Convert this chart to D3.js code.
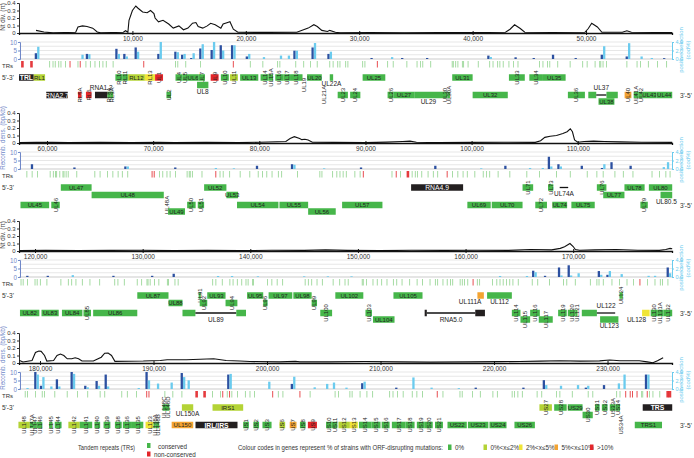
<!DOCTYPE html>
<html>
<head>
<meta charset="utf-8">
<script src="https://cdn.jsdelivr.net/npm/d3@7"></script>
<style>
  body { margin: 0; background: #fff; }
  svg { font-family: "Liberation Sans", Arial, sans-serif; }
</style>
</head>
<body>
<div class="vis-genome"></div>
<script>
// genome positions in kb, one array per panel row
const rowStarts = [0, 57.36, 118.51, 178.15];
const rowEnds = [57.58, 118.88, 179.18, 235.68];
const rowTicks = [[10, 20, 30, 40, 50], [60, 70, 80, 90, 100, 110], [120, 130, 140, 150, 160, 170], [180, 190, 200, 210, 220, 230]];
const leftTitles = ["Nt div. (\u03c0)", "Recomb. dens. (bp/kb)", "Nt div. (\u03c0)", "Recomb. dens. (bp/kb)"];
const divTicks = [0, 0.1, 0.2, 0.3, 0.4];
const barTicks = [0, 5, 10];
const selTicks = [0, 2, 4];

// nucleotide diversity line [kb, value]
const div1 = [[1.5,0.035],[2.2,0.013],[3.0,0.002],[5.0,0.01],[5.2,0.08],[5.6,0.095],[6.0,0.087],[6.5,0.065],[6.9,0.013],[7.2,0.002],[9.2,0.01],[9.4,0.03],[9.6,0.01],[9.7,0.17],[10.0,0.30],[10.3,0.36],[10.5,0.33],[10.9,0.28],[11.3,0.27],[11.6,0.30],[11.9,0.26],[12.0,0.20],[12.3,0.15],[12.7,0.17],[13.2,0.12],[13.6,0.065],[14.1,0.095],[14.5,0.043],[14.9,0.065],[15.3,0.13],[15.6,0.14],[15.8,0.087],[16.2,0.065],[16.6,0.095],[16.9,0.13],[17.3,0.11],[17.8,0.065],[18.0,0.12],[18.4,0.14],[18.6,0.15],[18.9,0.05],[19.3,0.01],[22,0.008],[24.5,0.01],[25.5,0.065],[26.0,0.11],[26.3,0.087],[26.7,0.035],[27.2,0.02],[27.4,0.035],[27.9,0.01],[28.3,0.002],[31,0.006],[34,0.004],[37,0.007],[40,0.005],[42.9,0.01],[43.3,0.05],[43.7,0.11],[44.2,0.06],[44.6,0.01],[47,0.006],[49.9,0.01],[50.2,0.06],[50.5,0.13],[51.0,0.08],[51.4,0.01],[53.2,0.01],[53.6,0.03],[54.0,0.01],[56,0.006],[57.6,0.005]];
const div2 = [[57.4,0.005],[59.0,0.008],[60.5,0.01],[62,0.005],[65,0.008],[68,0.005],[70.5,0.01],[72,0.006],[75,0.008],[78,0.005],[80,0.01],[82.5,0.02],[82.9,0.06],[83.3,0.084],[83.8,0.06],[84.0,0.045],[84.3,0.05],[84.6,0.04],[85.0,0.01],[87,0.008],[90,0.005],[92,0.012],[93.5,0.02],[94.2,0.025],[94.8,0.01],[97,0.005],[100,0.008],[103,0.01],[106,0.008],[106.5,0.03],[106.9,0.075],[107.4,0.09],[108.0,0.1],[108.6,0.126],[109.0,0.15],[109.3,0.19],[109.5,0.15],[109.7,0.04],[110.0,0.01],[110.6,0.02],[111.5,0.025],[112.5,0.02],[114,0.015],[116,0.01],[118.9,0.008]];
const div3 = [[118.6,0.005],[121,0.01],[124,0.005],[127,0.008],[130,0.01],[133,0.005],[136,0.008],[139,0.005],[142,0.01],[145,0.008],[147,0.015],[149,0.008],[152,0.005],[155,0.01],[158,0.008],[161,0.01],[164,0.008],[166,0.02],[168,0.015],[168.8,0.035],[169.2,0.058],[169.7,0.1],[170.0,0.06],[170.2,0.02],[170.6,0.01],[172,0.015],[174,0.02],[176,0.01],[178,0.008],[178.6,0.02],[179.0,0.035],[179.2,0.03]];
const div4 = [[178.2,0.034],[178.5,0.013],[179.3,0.034],[179.6,0.14],[179.9,0.16],[180.1,0.155],[180.4,0.1],[180.6,0.026],[181.2,0.034],[181.5,0.1],[181.8,0.12],[182.1,0.1],[182.4,0.056],[182.8,0.056],[183.1,0.07],[183.4,0.056],[183.7,0.026],[184.7,0.026],[185.4,0.077],[185.7,0.13],[186.0,0.133],[186.3,0.1],[186.6,0.022],[189.1,0.026],[190.6,0.034],[191.2,0.043],[192.9,0.043],[194.1,0.05],[195.3,0.056],[196.4,0.034],[197.6,0.026],[198.5,0.02],[201.1,0.015],[202.5,0.022],[202.9,0.015],[205.5,0.015],[208.6,0.02],[211.7,0.015],[214.4,0.012],[217.9,0.015],[220.5,0.018],[222.3,0.02],[224.1,0.025],[225.8,0.03],[227.6,0.025],[229.3,0.028],[230.2,0.04],[231.1,0.03],[232.8,0.03],[233.5,0.015],[234.0,0.003],[234.4,0.03],[234.9,0.07]];

// bars [kb, recombination (dark), positive selection (light)]
const bars1 = [[1.6,3.4,7.2],[5.5,0,2.5],[6.1,3,2.8],[8.7,6,3],[9.4,3,1.5],[10.4,6.8,4.3],[12.4,3,10],[13.9,4.3,4],[14.5,2.5,3],[15.3,0.6,3.4],[16.1,6.2,8.7],[17.1,5.3,10],[17.9,8.1,5],[18.9,8.1,8.1],[20.2,1.5,3],[21.5,0,1.1],[23.0,0,2],[23.7,0,2],[24.4,4.9,4.9],[26.0,6.8,9.4],[27.4,3,4.3],[31.2,0.6,0],[32.8,0,1.1],[33.9,0.6,0],[36.1,0.6,0],[41.5,2,1.2],[43.9,1,0],[45.5,0.6,0],[47.2,2.5,0],[49.2,0.6,0],[51.5,2.5,7.5],[53.7,1.5,9.3],[54.8,0,1.5],[55.7,0,0.6],[57.0,0.5,0]];
const bars2 = [[58.7,2.8,0],[62.7,0.9,0],[67.5,1.5,1.5],[72.2,0.9,0],[75.8,0,0.6],[77.5,0,0.4],[79.9,1.9,0],[83.2,2.8,2.5],[86.0,0,0.4],[89.7,0.9,0],[96.7,1.9,0],[100.8,0,0.4],[103.3,1.9,0],[105.4,0,0.6],[106.6,0,0.6],[107.4,7.2,1.5],[108.3,2.8,1.5],[110.5,1.9,0],[112.4,0.6,2.8],[113.3,4,0],[115.1,1.9,0],[118.0,0,1.1],[118.4,0,4]];
const bars3 = [[119.4,0.7,0],[121.3,0.7,0],[123.4,0,1.1],[127.4,0.7,0],[131.0,0.7,0],[133.0,1.9,0],[136.9,0,0.6],[138.2,0,0.6],[140.6,0,0.4],[144.9,0,0.4],[147.1,0,0.4],[149.3,0,0.4],[163.1,0,0.6],[165.6,0,0.6],[166.4,3.7,2.8],[167.5,0.7,0],[168.8,5.6,0.9],[169.7,6.9,0.9],[170.4,0,2.2],[172.5,3.5,1.3],[173.3,1.3,3.5],[174.4,0,1.7],[176.9,0,0.7],[177.5,0,0.7],[178.9,5.6,2.2]];
const bars4 = [[178.8,0,0.6],[179.7,10,8.5],[180.2,1.9,7],[180.9,0,1.5],[181.6,5.7,1.5],[182.9,10,8.9],[184.1,1.9,1],[185.1,4.7,1.9],[185.9,8.5,1.5],[188.6,0,0.6],[189.5,10,5.1],[190.3,0,3.2],[191.5,0,3.8],[192.6,9.4,7],[193.0,0,5.1],[196.7,8.5,8.9],[200.1,0,4.3],[202.3,3,7.2],[204.1,0,1],[205.2,0,3],[205.8,0,3.8],[206.9,0,0.8],[208.5,3.4,4.3],[211.5,0.8,0],[212.8,0,6.8],[214.4,0,0.8],[216.8,0,0.5],[218.5,0.8,0],[222.7,0.8,0],[224.5,5.2,2.3],[225.8,0,1.9],[227.3,0,2.3],[228.2,0.8,1.9],[229.8,2.3,0],[230.9,0,3.3],[231.4,0,8.5],[233.5,8.5,8.5]];

// tandem repeats [kb, type]  c conserved, n non-conserved, N wide non-conserved
const trs1 = [[0.3,"N"],[1.1,"N"],[2.7,"c"],[3.0,"c"],[3.2,"c"],[3.5,"c"],[3.7,"c"],[4.1,"c"],[4.5,"n"],[5.2,"c"],[5.4,"n"],[5.9,"c"],[6.3,"c"],[6.7,"c"],[7.1,"c"],[7.4,"c"],[7.7,"c"],[8.3,"c"],[11.0,"n"],[13.8,"c"],[14.0,"c"],[14.7,"c"],[16.0,"c"],[18.9,"n"],[20.4,"c"],[21.5,"c"],[22.8,"c"],[23.0,"c"],[24.4,"c"],[25.1,"c"],[25.7,"c"],[26.3,"c"],[27.4,"c"],[27.7,"c"],[28.1,"c"],[28.3,"c"],[28.8,"c"],[29.0,"c"],[30.3,"c"],[30.5,"c"],[31.6,"n"],[32.5,"c"],[33.0,"c"],[34.2,"c"],[35.1,"c"],[35.4,"c"],[35.6,"c"],[36.3,"c"],[38.2,"c"],[38.3,"c"],[38.5,"c"],[38.7,"c"],[39.1,"c"],[39.2,"c"],[39.6,"c"],[40.5,"c"],[41.5,"c"],[41.8,"c"],[42.2,"c"],[42.4,"c"],[42.7,"c"],[43.2,"c"],[43.6,"c"],[44.0,"c"],[45.9,"c"],[46.2,"c"],[46.6,"c"],[46.8,"c"],[47.5,"c"],[48.6,"c"],[49.7,"c"],[50.1,"c"],[50.8,"c"],[51.2,"c"],[51.3,"c"],[51.5,"c"],[51.8,"c"],[53.6,"c"],[54.5,"c"],[54.8,"c"],[55.5,"c"],[56.3,"c"],[57.1,"c"]];
const trs2 = [[58.1,"c"],[58.6,"c"],[59.1,"c"],[60.3,"c"],[60.6,"c"],[60.8,"c"],[60.9,"c"],[61.2,"c"],[61.5,"c"],[61.6,"c"],[61.8,"c"],[62.0,"c"],[62.8,"c"],[64.5,"c"],[65.0,"c"],[65.7,"c"],[66.2,"c"],[66.7,"c"],[67.1,"c"],[67.6,"c"],[69.9,"n"],[70.1,"n"],[70.6,"c"],[70.9,"c"],[71.3,"c"],[71.6,"c"],[72.1,"c"],[73.2,"c"],[73.4,"c"],[73.5,"c"],[73.7,"c"],[74.6,"c"],[75.9,"n"],[76.3,"c"],[76.6,"c"],[77.2,"c"],[78.2,"c"],[79.1,"c"],[79.9,"c"],[80.3,"c"],[80.7,"c"],[81.2,"c"],[81.8,"c"],[82.1,"c"],[83.6,"c"],[85.7,"c"],[85.9,"c"],[86.9,"c"],[87.3,"c"],[87.6,"c"],[87.9,"c"],[88.2,"c"],[89.0,"c"],[89.5,"c"],[89.8,"n"],[92.5,"c"],[92.9,"n"],[93.3,"c"],[94.0,"N"],[94.4,"c"],[94.7,"c"],[94.9,"c"],[95.3,"c"],[95.9,"c"],[96.4,"c"],[96.8,"c"],[97.7,"n"],[98.2,"c"],[98.7,"c"],[99.2,"c"],[99.6,"c"],[100.3,"c"],[101.1,"c"],[101.4,"c"],[101.7,"c"],[102.5,"c"],[103.6,"c"],[105.2,"c"],[106.4,"c"],[108.0,"c"],[109.3,"c"],[110.9,"c"],[111.8,"c"],[112.4,"c"],[113.5,"c"],[114.3,"c"],[115.2,"c"],[117.0,"c"],[117.7,"c"],[118.3,"c"],[118.7,"c"]];
const trs3 = [[118.7,"c"],[118.9,"c"],[119.3,"c"],[120.0,"c"],[120.2,"c"],[120.5,"c"],[121.1,"c"],[122.4,"c"],[123.1,"c"],[123.4,"c"],[123.8,"c"],[124.4,"c"],[125.1,"c"],[126.0,"c"],[127.4,"c"],[127.7,"c"],[128.3,"c"],[129.5,"c"],[129.9,"c"],[130.4,"c"],[130.5,"c"],[130.7,"c"],[131.1,"c"],[131.5,"c"],[132.3,"c"],[132.4,"c"],[133.0,"c"],[133.3,"c"],[136.5,"c"],[136.8,"c"],[137.4,"c"],[138.1,"c"],[138.4,"c"],[138.8,"c"],[139.2,"c"],[139.6,"c"],[139.8,"c"],[140.2,"c"],[140.3,"c"],[141.6,"c"],[142.0,"c"],[142.5,"c"],[143.0,"c"],[145.1,"c"],[145.4,"c"],[145.7,"c"],[146.2,"c"],[146.7,"c"],[147.7,"c"],[148.3,"c"],[148.8,"c"],[149.1,"c"],[150.4,"c"],[150.5,"c"],[150.8,"c"],[151.4,"c"],[151.8,"c"],[152.2,"c"],[152.7,"c"],[153.3,"c"],[153.6,"c"],[154.1,"c"],[154.8,"c"],[155.5,"c"],[156.0,"c"],[156.7,"c"],[157.2,"c"],[157.4,"c"],[157.9,"c"],[158.3,"c"],[158.6,"c"],[158.8,"c"],[159.5,"c"],[159.7,"c"],[159.9,"c"],[160.2,"c"],[160.7,"n"],[161.1,"c"],[161.3,"c"],[162.5,"c"],[162.9,"c"],[163.2,"c"],[163.5,"c"],[163.8,"c"],[164.1,"c"],[164.4,"c"],[164.9,"c"],[166.2,"c"],[166.7,"c"],[167.8,"c"],[169.1,"c"],[169.4,"c"],[170.2,"c"],[171.6,"c"],[172.2,"c"],[172.4,"c"],[172.8,"c"],[173.6,"c"],[174.3,"c"],[175.0,"c"],[175.6,"c"],[176.2,"n"],[176.9,"c"],[177.6,"c"],[178.1,"c"],[178.3,"c"],[178.8,"c"]];
const trs4 = [[178.7,"c"],[178.9,"c"],[179.6,"c"],[180.2,"c"],[180.4,"c"],[181.3,"c"],[182.4,"c"],[183.3,"c"],[184.2,"c"],[185.3,"c"],[185.7,"c"],[187.2,"c"],[187.7,"c"],[188.5,"c"],[189.4,"n"],[189.6,"n"],[191.0,"c"],[191.7,"c"],[192.5,"c"],[193.8,"N"],[194.5,"N"],[195.2,"c"],[195.9,"c"],[196.1,"n"],[196.5,"c"],[196.7,"n"],[196.9,"c"],[197.4,"c"],[198.1,"c"],[198.5,"c"],[198.9,"c"],[200.5,"n"],[201.0,"c"],[201.4,"c"],[202.9,"n"],[203.8,"c"],[206.0,"c"],[206.3,"c"],[207.3,"c"],[207.5,"c"],[208.2,"c"],[208.8,"c"],[209.3,"c"],[210.8,"c"],[211.1,"c"],[211.5,"c"],[212.0,"c"],[212.8,"c"],[213.2,"c"],[213.7,"c"],[215.0,"n"],[215.5,"c"],[217.0,"c"],[217.2,"c"],[218.1,"c"],[218.8,"c"],[219.9,"c"],[220.3,"c"],[221.6,"c"],[221.8,"c"],[222.1,"c"],[222.5,"c"],[223.8,"c"],[224.2,"c"],[225.5,"c"],[225.8,"c"],[226.9,"c"],[228.3,"c"],[228.7,"c"],[230.8,"c"],[231.1,"c"],[231.6,"n"],[232.0,"n"],[232.2,"n"],[232.6,"n"],[233.0,"c"],[233.1,"c"],[233.5,"n"],[233.7,"c"],[234.0,"c"],[234.6,"c"],[235.3,"N"],[235.5,"N"]];

// genes [name, start kb, end kb, lane, colour code, label mode]
const genes1 = [
  ["TRL",0,1.3,"A","k","h"],["RL1",1.3,2.3,"A","yg","h"],["RNA2.7",2.4,4.3,"C","k","h"],
  ["RL5A",5.2,5.5,"C","r","r"],["RL6",5.9,6.4,"C","r","r"],["RNA1.2",6.7,7.8,"C","k","a"],
  ["RL8A",7.8,8.05,"C","g","r"],["RL9A",8.05,8.3,"C","g","r"],["RL10",8.5,9.1,"A","g","r"],
  ["RL11",9.1,9.6,"A","g","r"],["RL12",9.6,11.1,"A","yg","h"],["RL13",11.1,12.0,"A","y","r"],
  ["UL1",12.0,12.7,"A","r","r"],["UL2",13.0,13.4,"C","g","r"],["UL4",13.8,14.4,"A","g","r"],
  ["UL5",14.4,14.9,"A","g","r"],["UL6",14.9,15.8,"A","g","h"],["UL7",15.8,16.4,"A","g","r"],
  ["UL8",15.7,16.7,"B","g","b"],["UL9",16.9,17.6,"A","r","r"],["UL10",17.8,18.5,"A","g","r"],
  ["UL11",18.6,19.3,"A","yg","r"],["UL13",19.5,21.1,"A","g","h"],["UL14",21.3,22.0,"A","g","r"],
  ["UL15A",22.0,22.4,"A","g","r"],["UL16",22.6,23.3,"A","g","r"],["UL17",23.3,23.9,"A","g","r"],
  ["UL18",23.9,25.0,"A","g","r"],["UL19",25.0,25.3,"B","none","r"],["UL20",25.4,26.7,"A","g","h"],
  ["UL21A",26.8,27.0,"C","none","r"],["UL22A",27.4,27.7,"A","g","b"],["UL23",28.1,29.0,"C","g","r"],
  ["UL24",29.2,30.1,"C","g","r"],["UL25",30.3,32.3,"A","g","h"],["UL26",32.5,33.0,"C","g","r"],
  ["UL27",33.0,34.9,"C","g","h"],["UL29",34.9,37.3,"C","g","b"],["UL30",37.3,37.8,"C","g","r"],
  ["UL30A",37.8,38.0,"C","g","r"],["UL31",38.2,40.0,"A","g","h"],["UL32",40.0,43.1,"C","g","h"],
  ["UL33",43.2,44.6,"A","g","r"],["UL34",45.0,46.2,"A","g","r"],["UL35",46.2,48.2,"A","g","h"],
  ["UL36",48.4,49.9,"C","g","r"],["",50.2,50.9,"C","g","n"],["UL37",50.9,51.8,"C","line","a"],
  ["",51.8,52.8,"C","g","n"],["UL38",51.1,52.5,"D","g","h"],["UL40",53.4,54.0,"C","o","r"],
  ["UL41A",54.2,54.6,"C","g","r"],["UL42",54.6,55.0,"C","g","r"],["UL43",55.0,56.2,"C","g","h"],
  ["UL44",56.2,57.6,"C","g","h"]
];
const genes2 = [
  ["UL45",57.5,60.2,"C","g","h"],["UL46",60.4,61.2,"C","g","r"],["UL47",61.3,64.2,"A","g","h"],
  ["UL48",64.2,71.0,"B","g","h"],["UL48A",71.2,71.4,"C","none","r"],["UL49",71.4,73.0,"D","g","h"],
  ["UL50",73.2,74.0,"C","g","r"],["UL51",74.2,74.8,"C","g","r"],["UL52",74.8,76.9,"A","g","h"],
  ["UL53",76.9,78.0,"B","g","h"],["UL54",77.9,81.8,"C","g","h"],["UL55",81.9,84.6,"C","g","h"],
  ["UL56",84.6,87.2,"D","g","h"],["UL57",87.8,91.6,"C","g","h"],["RNA4.9",94.3,99.2,"A","k","h"],
  ["UL69",99.6,101.8,"C","g","h"],["UL70",101.9,104.8,"C","g","h"],["UL71",104.8,105.8,"A","g","r"],
  ["UL72",106.0,107.1,"C","g","r"],["UL73",107.2,107.7,"A","g","r"],["UL74A",108.3,109.1,"A","line","b"],
  ["UL74",107.6,109.0,"C","g","h"],["UL75",109.4,111.6,"C","g","h"],["UL76",111.8,112.7,"A","g","r"],
  ["UL77",112.4,114.4,"B","g","h"],["UL78",114.4,116.3,"A","g","h"],["UL79",115.9,116.6,"C","g","r"],
  ["UL80",116.7,118.9,"A","g","h"],["UL80.5",117.8,118.9,"B","g","b"]
];
const genes3 = [
  ["UL82",118.6,120.4,"C","g","h"],["UL83",120.6,122.2,"C","g","h"],["UL84",122.5,124.4,"C","g","h"],
  ["UL85",124.5,125.2,"C","g","r"],["UL86",125.4,129.5,"C","g","h"],["UL87",129.5,132.4,"A","g","h"],
  ["UL88",132.4,133.7,"B","g","h"],["",133.7,134.9,"C","g","n"],["UL89",134.9,138.7,"C","line","b"],
  ["",138.7,139.6,"C","g","n"],["UL91",135.2,135.4,"A","g","r"],["UL92",135.3,136.0,"B","g","r"],
  ["UL93",136.0,137.7,"A","g","h"],["UL94",137.7,138.8,"B","g","r"],["UL95",139.7,141.2,"A","g","h"],
  ["UL96",141.2,141.6,"B","g","r"],["UL97",141.7,143.9,"A","g","h"],["UL98",144.0,145.7,"A","g","h"],
  ["UL99",145.7,146.2,"B","g","r"],["UL100",146.5,147.6,"C","g","r"],["UL102",147.9,150.5,"A","g","h"],
  ["UL103",150.7,151.3,"C","g","r"],["UL104",151.4,153.4,"D","g","h"],["UL105",153.3,156.0,"A","g","h"],
  ["",156.2,156.4,"C","k","n"],["RNA5.0",156.4,160.9,"C","line","b"],["",160.9,161.8,"C","k","n"],
  ["UL111A",161.1,161.7,"A","o","bl"],["UL112",162.0,164.3,"A","g","b"],["UL114",164.3,165.1,"C","g","r"],
  ["UL115",165.1,166.0,"D","g","r"],["UL116",166.0,166.9,"C","g","r"],["UL117",166.8,168.1,"D","g","r"],
  ["UL119",168.6,169.4,"C","g","r"],["UL120",169.5,170.2,"C","g","r"],["UL121",170.2,170.4,"C","g","r"],
  ["",170.8,172.2,"C","g","n"],["UL122",172.2,173.9,"C","line","a"],["UL123",172.5,174.2,"D","g","b"],
  ["UL124",174.3,174.6,"A","g","r"],["UL128",176.4,177.1,"C","y","bl"],["UL130",177.2,177.8,"C","g","r"],
  ["UL131A",177.8,178.4,"C","g","r"],["UL132",178.4,179.2,"C","g","r"]
];
const genes4 = [
  ["UL148",178.1,179.1,"C","yg","r"],["UL147A",179.1,179.4,"C","g","r"],["UL147",179.4,179.7,"C","g","r"],
  ["UL146",179.7,180.2,"C","g","r"],["UL145",180.8,181.1,"C","g","r"],["UL144",181.3,181.9,"C","g","r"],
  ["UL142",182.5,183.5,"C","yg","r"],["UL141",183.5,184.6,"C","g","r"],["UL140",184.8,185.3,"C","g","r"],
  ["UL139",185.6,186.2,"C","g","r"],["UL138",186.6,187.2,"C","g","r"],["UL136",187.3,188.1,"C","g","r"],
  ["UL135",188.1,189.1,"C","g","r"],["UL133",189.3,190.0,"C","y","r"],["UL148A",190.0,190.2,"C","g","r"],
  ["UL148B",190.2,190.5,"C","g","r"],["UL148C",190.8,191.1,"A","g","r"],["UL148D",191.1,191.4,"A","g","r"],
  ["UL150",191.6,193.5,"C","o","h"],["UL150A",192.5,193.5,"A","yg","b"],["IRL/IRS",193.7,197.4,"C","k","h"],
  ["IRS1",195.2,197.9,"A","yg","h"],["US1",197.9,198.4,"C","g","r"],["US2",198.8,199.3,"C","g","r"],
  ["US3",199.6,200.4,"C","g","r"],["US6",201.1,201.6,"C","yg","r"],["US7",202.0,202.6,"C","o","r"],
  ["US8",202.9,203.4,"C","g","r"],["US9",203.6,204.4,"C","r","r"],["US10",205.2,205.7,"C","g","r"],
  ["US11",205.7,206.2,"C","g","r"],["US12",206.3,207.3,"C","yg","r"],["US13",207.3,208.0,"C","y","r"],
  ["US14",208.1,209.2,"C","g","r"],["US15",209.2,210.0,"C","g","r"],["US16",210.1,210.8,"C","g","r"],
  ["US17",211.0,212.2,"C","g","r"],["US18",212.2,213.0,"C","g","r"],["US19",213.2,213.9,"C","g","r"],
  ["US20",213.9,214.6,"C","g","r"],["US21",214.8,215.5,"C","g","r"],["US22",215.9,217.6,"C","g","h"],
  ["US23",217.7,219.5,"C","g","h"],["US24",219.6,221.1,"C","g","h"],["US26",221.8,223.6,"C","g","h"],
  ["US27",224.0,225.1,"A","yg","r"],["US28",225.3,226.4,"A","g","r"],["US29",226.5,227.8,"A","g","h"],
  ["US30",227.8,228.7,"B","g","r"],["US31",228.9,229.3,"A","g","r"],["US32",229.5,230.0,"A","g","r"],
  ["US33A",230.2,230.7,"A","g","r"],["US34",230.7,231.1,"A","g","r"],["US34A",231.1,231.3,"C","none","r"],
  ["TRS1",232.4,234.8,"C","g","h"],["TRS",233.1,235.7,"A","k","h"]
];

const legendCodes = ["g", "yg", "y", "o", "r"];
const legendLabels = ["0%", "0%<x\u22642%", "2%<x\u22645%", "5%<x\u226410%", ">10%"];

const colors = { g: "#46b64a", yg: "#b4d336", y: "#f0e536", o: "#f4a432", r: "#e3262a", k: "#231f20" };
const darkBlue = "#2c50a0", lightBlue = "#6bcbee", axisBlue = "#7088c8";

const draw = () => {
  const W = 694, H = 458;
  const rowTop = [0, 110, 218, 330];
  const laneY = { A: 77.5, B: 85, C: 95, D: 101.5 };
  const boxH = 6.5;
  const x0 = 19, x1 = 672;
  const geneFont = 6;

  const svg = d3.select(".vis-genome").append("svg")
    .attr("width", W).attr("height", H);

  const rows = [
    { div: div1, bars: bars1, trs: trs1, genes: genes1 },
    { div: div2, bars: bars2, trs: trs2, genes: genes2 },
    { div: div3, bars: bars3, trs: trs3, genes: genes3 },
    { div: div4, bars: bars4, trs: trs4, genes: genes4 }
  ];

  rows.forEach((row, i) => {
    const g = svg.append("g").attr("transform", "translate(0," + rowTop[i] + ")");
    const x = d3.scaleLinear().domain([rowStarts[i], rowEnds[i]]).range([x0, x1]);
    const yDiv = d3.scaleLinear().domain([0, 0.4]).range([33, 3]);
    const yBar = d3.scaleLinear().domain([0, 10]).range([59, 42]);
    const ySel = d3.scaleLinear().domain([0, 4]).range([59, 42]);

    // diversity / recombination curve
    g.append("g").attr("class", "yaxis")
      .attr("transform", "translate(" + x0 + ",0)")
      .call(d3.axisLeft(yDiv).tickValues(divTicks).tickSize(2).tickPadding(1.5)
        .tickFormat(d => (d === 0 ? "0" : d3.format(".1f")(d))))
      .call(s => s.selectAll("text").attr("font-size", 6).attr("fill", "#333"))
      .call(s => s.selectAll("line,path").attr("stroke", "#333"));

    g.append("path").datum(row.div)
      .attr("fill", "none").attr("stroke", "#111").attr("stroke-width", 1.1)
      .attr("d", d3.line().x(d => x(d[0])).y(d => yDiv(d[1])));

    g.append("g").attr("class", "x-axis")
      .attr("transform", "translate(0,33)")
      .call(d3.axisBottom(x).tickValues(rowTicks[i]).tickSize(2).tickPadding(1)
        .tickFormat(d => d3.format(",")(d * 1000)))
      .call(s => s.select(".domain").attr("stroke", "#111").attr("stroke-width", 1.3))
      .call(s => s.selectAll(".tick line").attr("y1", -2).attr("stroke", "#111"))
      .call(s => s.selectAll("text").attr("font-size", 6.5).attr("fill", "#333"));

    // bar panel grid
    g.selectAll(".grid").data([0, 1, 2, 3, 4]).enter().append("line")
      .attr("x1", x0).attr("x2", x1)
      .attr("y1", d => ySel(d)).attr("y2", d => ySel(d))
      .attr("stroke", d => (d === 0 ? "#aaa" : "#d6d6d6")).attr("stroke-width", 0.6);

    g.append("g").attr("transform", "translate(" + (x0 + 1) + ",0)")
      .call(d3.axisLeft(yBar).tickValues(barTicks).tickSize(2).tickPadding(1))
      .call(s => s.selectAll("text").attr("font-size", 6.3).attr("fill", axisBlue))
      .call(s => s.selectAll("line,path").attr("stroke", axisBlue));

    g.append("g").attr("transform", "translate(" + x1 + ",0)")
      .call(d3.axisRight(ySel).tickValues(selTicks).tickSize(2).tickPadding(1.5))
      .call(s => s.selectAll("text").attr("font-size", 5.5).attr("fill", lightBlue))
      .call(s => s.selectAll("line,path").attr("stroke", lightBlue));

    const bar = g.selectAll(".bar").data(row.bars).enter().append("g").attr("class", "bar");
    bar.append("rect")
      .attr("x", d => x(d[0]) - 2.4).attr("width", 2.3)
      .attr("y", d => yBar(d[1])).attr("height", d => yBar(0) - yBar(d[1]))
      .attr("fill", darkBlue);
    bar.append("rect")
      .attr("x", d => x(d[0])).attr("width", 2.3)
      .attr("y", d => yBar(d[2])).attr("height", d => yBar(0) - yBar(d[2]))
      .attr("fill", lightBlue);

    // tandem repeats
    g.selectAll(".tr").data(row.trs).enter().append("line")
      .attr("x1", d => x(d[0])).attr("x2", d => x(d[0]))
      .attr("y1", 61).attr("y2", 67.5)
      .attr("stroke", d => (d[1] === "c" ? "#7ccb78" : "#e3262a"))
      .attr("stroke-width", d => (d[1] === "N" ? 2.6 : 0.9))
      .attr("opacity", d => (d[1] === "c" ? 0.75 : 0.9));

    // genes
    const gene = g.selectAll(".gene").data(row.genes).enter().append("g").attr("class", "gene");
    gene.filter(d => d[4] === "line").append("line")
      .attr("x1", d => x(d[1])).attr("x2", d => x(d[2]))
      .attr("y1", d => laneY[d[3]]).attr("y2", d => laneY[d[3]])
      .attr("stroke", "#111").attr("stroke-width", 1.3);
    gene.filter(d => colors[d[4]]).append("rect")
      .attr("x", d => x(d[1])).attr("width", d => Math.max(1.5, x(d[2]) - x(d[1])))
      .attr("y", d => laneY[d[3]] - boxH / 2).attr("height", boxH)
      .attr("fill", d => colors[d[4]]);

    const cx = d => (x(d[1]) + x(d[2])) / 2;
    gene.filter(d => d[5] === "h").append("text")
      .attr("x", cx).attr("y", d => laneY[d[3]] + 0.3)
      .attr("text-anchor", "middle").attr("dominant-baseline", "central")
      .attr("font-size", d => (d[4] === "k" ? 6.8 : geneFont))
      .attr("font-weight", d => (["TRL", "TRS", "IRL/IRS"].includes(d[0]) ? "bold" : "normal"))
      .attr("fill", d => (d[4] === "k" ? "#fff" : "#222"))
      .text(d => d[0]);
    gene.filter(d => d[5] === "r").append("text")
      .attr("transform", d => "translate(" + (cx(d) + 2.1) + "," + laneY[d[3]] + ") rotate(-90)")
      .attr("text-anchor", "middle").attr("font-size", geneFont).attr("fill", "#222")
      .text(d => d[0]);
    gene.filter(d => d[5] === "b").append("text")
      .attr("x", cx).attr("y", d => laneY[d[3]] + boxH / 2 + 5.5)
      .attr("text-anchor", "middle").attr("font-size", 6.5).attr("fill", "#222")
      .text(d => d[0]);
    gene.filter(d => d[5] === "bl").append("text")
      .attr("x", d => x(d[1]) + 4).attr("y", d => laneY[d[3]] + boxH / 2 + 5.5)
      .attr("text-anchor", "end").attr("font-size", 6.5).attr("fill", "#222")
      .text(d => d[0]);
    gene.filter(d => d[5] === "a").append("text")
      .attr("x", cx).attr("y", d => laneY[d[3]] - boxH / 2 - 2)
      .attr("text-anchor", "middle").attr("font-size", 6.5).attr("fill", "#222")
      .text(d => d[0]);

    // row labels
    const blue = i % 2 === 1;
    g.append("text")
      .attr("transform", "translate(5," + (blue ? 28 : 17) + ") rotate(-90)")
      .attr("text-anchor", "middle").attr("font-size", 6.3)
      .attr("fill", blue ? axisBlue : "#444")
      .text(leftTitles[i]);
    g.append("text").attr("x", 2).attr("y", 67.5).attr("font-size", 6).attr("fill", "#333").text("TRs");
    g.append("text").attr("x", 2).attr("y", laneY.A + 2.5).attr("font-size", 6.5).attr("fill", "#333").text("5'-3'");
    g.append("text").attr("x", 680).attr("y", laneY.C + 2.5).attr("font-size", 6.5).attr("fill", "#333").text("3'-5'");
    g.append("text")
      .attr("transform", "translate(683,50) rotate(-90)")
      .attr("text-anchor", "middle").attr("font-size", 6).attr("fill", lightBlue)
      .text("positive selection");
    g.append("text")
      .attr("transform", "translate(690,50) rotate(-90)")
      .attr("text-anchor", "middle").attr("font-size", 6).attr("fill", lightBlue)
      .text("(cod%)");
  });

  // legend
  const leg = svg.append("g").attr("font-size", 6.3).attr("fill", "#333");
  leg.append("text").attr("x", 78).attr("y", 450)
    .attr("textLength", 57).attr("lengthAdjust", "spacingAndGlyphs").text("Tandem repeats (TRs)");
  leg.append("rect").attr("x", 147).attr("y", 443).attr("width", 3.5).attr("height", 5).attr("fill", colors.g);
  leg.append("text").attr("x", 158).attr("y", 448.5).text("conserved");
  leg.append("rect").attr("x", 147).attr("y", 451.5).attr("width", 3.5).attr("height", 5).attr("fill", colors.r);
  leg.append("text").attr("x", 154).attr("y", 457).text("non-conserved");
  leg.append("text").attr("x", 238).attr("y", 450)
    .attr("textLength", 205).attr("lengthAdjust", "spacingAndGlyphs")
    .text("Colour codes in genes represent % of strains with ORF-disrupting mutations:");
  const legX = d3.scalePoint().domain(legendCodes).range([448, 590]);
  const item = leg.selectAll(".lg").data(legendCodes).enter().append("g").attr("class", "lg");
  item.append("rect").attr("x", d => legX(d)).attr("y", 444.5).attr("width", 3.5).attr("height", 5.5)
    .attr("fill", d => colors[d]);
  item.append("text").attr("x", d => legX(d) + 7).attr("y", 450).text((d, j) => legendLabels[j]);
};

draw();
</script>
</body>
</html>
